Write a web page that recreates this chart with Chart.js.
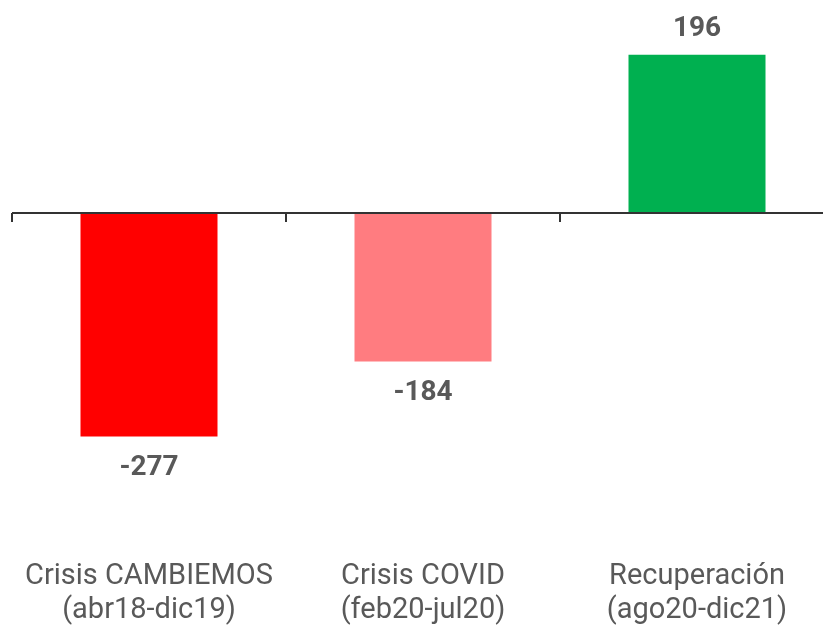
<!DOCTYPE html>
<html>
<head>
<meta charset="utf-8">
<script src="https://cdn.jsdelivr.net/npm/chart.js@4/dist/chart.umd.min.js"></script>
<style>
  html, body { margin: 0; padding: 0; background: #fff; overflow: hidden; }
  #wrap { width: 846px; height: 625px; position: relative; }
</style>
</head>
<body>
<div id="wrap"><canvas id="crisisChart"></canvas></div>
<script>
// data
const categories = [
  ['Crisis CAMBIEMOS', '(abr18-dic19)'],
  ['Crisis COVID', '(feb20-jul20)'],
  ['Recuperación', '(ago20-dic21)']
];
const values = [-277, -184, 196];
const barColors = ['#FF0000', '#FF7C80', '#00B050'];

const textGray = '#595959';

// zero line with small tick marks between categories
const zeroLine = {
  id: 'zeroLine',
  afterDatasetsDraw(chart) {
    const ctx = chart.ctx;
    const x = chart.scales.x;
    const y0 = chart.scales.y.getPixelForValue(0);
    const half = (x.getPixelForValue(1) - x.getPixelForValue(0)) / 2;
    ctx.save();
    ctx.strokeStyle = '#333333';
    ctx.lineWidth = 2;
    ctx.beginPath();
    ctx.moveTo(chart.chartArea.left, y0);
    ctx.lineTo(chart.chartArea.right, y0);
    for (let i = 0; i <= categories.length; i++) {
      const tx = Math.round(x.getPixelForValue(i) - half);
      ctx.moveTo(tx, y0);
      ctx.lineTo(tx, y0 + 9);
    }
    ctx.stroke();
    ctx.restore();
  }
};

// value labels above / below bars
const valueLabels = {
  id: 'valueLabels',
  afterDatasetsDraw(chart) {
    const ctx = chart.ctx;
    const meta = chart.getDatasetMeta(0);
    ctx.save();
    ctx.font = 'bold 28px Roboto';
    ctx.fillStyle = textGray;
    ctx.textAlign = 'center';
    meta.data.forEach((bar, i) => {
      const v = values[i];
      if (v >= 0) {
        ctx.textBaseline = 'bottom';
        ctx.fillText(v, bar.x, bar.y - 12);
      } else {
        ctx.textBaseline = 'top';
        ctx.fillText(v, bar.x, bar.y + 17);
      }
    });
    ctx.restore();
  }
};

new Chart(document.getElementById('crisisChart'), {
  type: 'bar',
  data: {
    labels: categories,
    datasets: [{
      data: values,
      backgroundColor: barColors,
      borderWidth: 0,
      categoryPercentage: 1,
      barPercentage: 0.5
    }]
  },
  options: {
    responsive: true,
    maintainAspectRatio: false,
    animation: false,
    layout: { padding: { left: 12, right: 12, top: 0, bottom: -3 } },
    plugins: {
      legend: { display: false },
      tooltip: { enabled: false }
    },
    scales: {
      x: {
        grid: { display: false, drawTicks: false },
        border: { display: false },
        ticks: {
          color: textGray,
          font: { family: 'Roboto', size: 29, lineHeight: 1.172 },
          padding: 0,
          maxRotation: 0,
          autoSkip: false
        }
      },
      y: {
        display: false,
        min: -430,
        max: 264
      }
    }
  },
  plugins: [zeroLine, valueLabels]
});
</script>
</body>
</html>
